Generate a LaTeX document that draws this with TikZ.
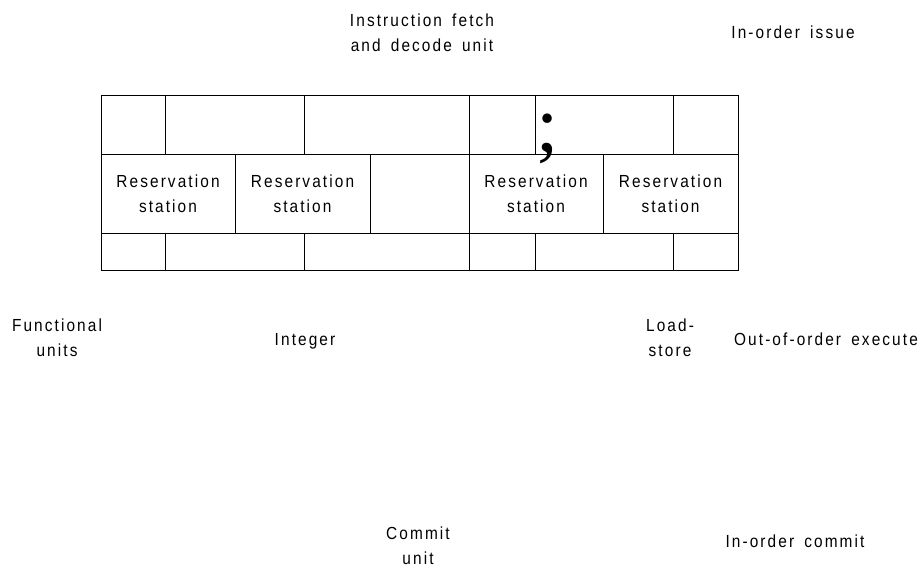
\documentclass[tikz,border=0pt]{standalone}
\usepackage{fontspec}
\setmainfont{Liberation Sans}[LetterSpace=12, FakeStretch=0.88, WordSpace=1.6]
\newfontfamily\semifont{Liberation Serif}
\begin{document}
\begin{tikzpicture}[x=1pt,y=-1pt,
  cell/.style={draw, line width=1pt, inner sep=0pt, align=center},
  lbl/.style={inner sep=0pt, align=center},
  every node/.style={font=\fontsize{17.5}{25}\selectfont}]
\useasboundingbox (0,0) rectangle (924,568);
% top row
\node[cell, minimum width=64pt,  minimum height=59pt] (t1) at (133,124.5) {};
\node[cell, minimum width=139pt, minimum height=59pt] (t2) at (234.5,124.5) {};
\node[cell, minimum width=165pt, minimum height=59pt] (t3) at (386.5,124.5) {};
\node[cell, minimum width=66pt,  minimum height=59pt] (t4) at (502,124.5) {};
\node[cell, minimum width=138pt, minimum height=59pt] (t5) at (604,124.5) {};
\node[cell, minimum width=65pt,  minimum height=59pt] (t6) at (705.5,124.5) {};
% middle row
\node[cell, minimum width=134pt, minimum height=79pt] (m1) at (168,193.5) {Reservation\\station};
\node[cell, minimum width=135pt, minimum height=79pt] (m2) at (302.5,193.5) {Reservation\\station};
\node[cell, minimum width=99pt,  minimum height=79pt] (m3) at (419.5,193.5) {};
\node[cell, minimum width=134pt, minimum height=79pt] (m4) at (536,193.5) {Reservation\\station};
\node[cell, minimum width=135pt, minimum height=79pt] (m5) at (670.5,193.5) {Reservation\\station};
% bottom row
\node[cell, minimum width=64pt,  minimum height=37pt] (b1) at (133,251.5) {};
\node[cell, minimum width=139pt, minimum height=37pt] (b2) at (234.5,251.5) {};
\node[cell, minimum width=165pt, minimum height=37pt] (b3) at (386.5,251.5) {};
\node[cell, minimum width=66pt,  minimum height=37pt] (b4) at (502,251.5) {};
\node[cell, minimum width=138pt, minimum height=37pt] (b5) at (604,251.5) {};
\node[cell, minimum width=65pt,  minimum height=37pt] (b6) at (705.5,251.5) {};
% semicolon
\node[inner sep=0pt, anchor=base, font=\semifont\fontsize{80}{80}\selectfont] (semi) at (548,151) {;};
% labels
\node[lbl] (ifu) at (422,33) {Instruction fetch\\and decode unit};
\node[lbl, anchor=base] (ioi) at (793,38.5) {In-order issue};
\node[lbl] (fu) at (57,338) {Functional\\units};
\node[lbl, anchor=base] (int) at (305,345) {Integer};
\node[lbl] (ls) at (670,338) {Load-\\store};
\node[lbl, anchor=base] (ooe) at (826,345) {Out-of-order execute};
\node[lbl] (cu) at (418,546) {Commit\\unit};
\node[lbl, anchor=base] (ioc) at (795,547) {In-order commit};
\end{tikzpicture}
\end{document}
